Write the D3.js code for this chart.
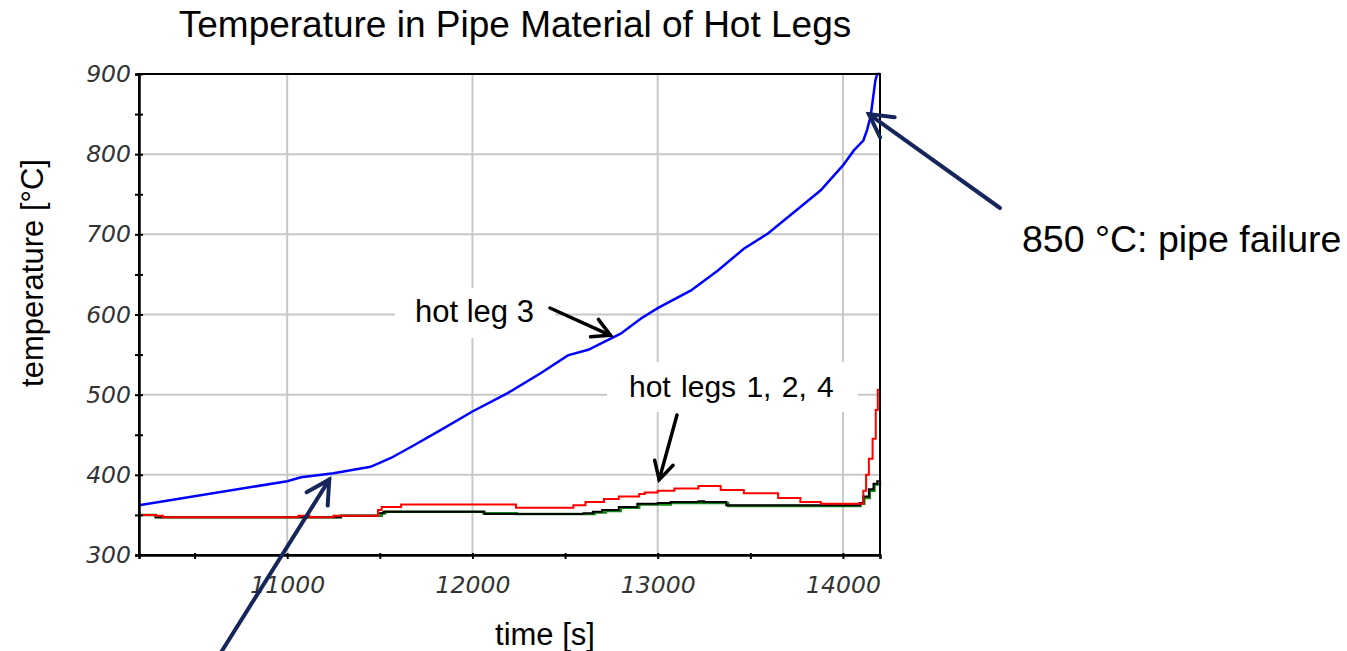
<!DOCTYPE html>
<html>
<head>
<meta charset="utf-8">
<script src="https://cdn.jsdelivr.net/npm/d3@7"></script>
<style>
  body { margin: 0; background: #fff; }
  svg { display: block; }
  .lbl { font-family: "Liberation Sans", Arial, sans-serif; fill: #000; }
</style>
</head>
<body>
<script>
// hot leg 3 (blue)
var blueTime = [10200, 11000, 11075, 11250, 11450, 11560, 11670, 11830, 12000, 12190, 12370, 12515, 12625, 12800, 12910, 13000, 13180, 13325, 13465, 13595, 13770, 13880, 14000, 14060, 14110, 14130, 14150, 14175, 14185, 14200];
var blueTemp = [362, 392, 397, 402, 410, 421, 435, 456, 479, 502, 527, 549, 556, 576, 595, 608, 630, 655, 682, 701, 734, 755, 786, 805, 817, 830, 848, 892, 900, 900];

// hot legs 1, 2, 4 (red, black, green)
var redTime = [10200, 10290, 10330, 11060, 11120, 11250, 11490, 11510, 11615, 12235, 12545, 12610, 12710, 12790, 12900, 12930, 13000, 13090, 13220, 13340, 13465, 13650, 13770, 13880, 14060, 14110, 14125, 14140, 14160, 14177, 14188, 14200];
var redTemp = [350, 349, 347, 349, 347, 349, 356, 360, 363, 359, 362, 366, 370, 373, 376, 378, 380, 383, 386, 381, 377, 371, 366, 364, 364, 380, 400, 420, 445, 481, 506, 508];

var blackTime = [10200, 10290, 11290, 11490, 11520, 12065, 12600, 12650, 12700, 12790, 12890, 13000, 13070, 13220, 13250, 13370, 14060, 14090, 14110, 14140, 14165, 14185, 14200];
var blackTemp = [350, 347, 349, 352, 354, 351, 352, 354, 356, 360, 364, 365, 366, 367, 366, 362, 362, 365, 373, 382, 389, 392, 393];

var greenTime = [10200, 10290, 11290, 11510, 11530, 12060, 12240, 12600, 12660, 12720, 12800, 12900, 13070, 13250, 13380, 14060, 14095, 14115, 14145, 14170, 14200];
var greenTemp = [350, 347, 349, 352, 354, 352, 351, 351, 353, 355, 359, 363, 365, 365, 361, 361, 364, 371, 380, 388, 392];

var yTicks = d3.range(300, 901, 50);
var xTicks = d3.range(10500, 14001, 500);
var yGrid = [400, 500, 600, 700, 800];
var xGrid = [11000, 12000, 13000, 14000];

var width = 1347, height = 651;
var pLeft = 139, pTop = 74, pRight = 880, pBottom = 555;

var svg = d3.select("body").append("svg")
    .attr("width", width)
    .attr("height", height);

var x = d3.scaleLinear().domain([10200, 14200]).range([pLeft, pRight]);
var y = d3.scaleLinear().domain([300, 900]).range([pBottom, pTop]);

// grid
svg.append("g").selectAll("line").data(yGrid).enter().append("line")
    .attr("x1", pLeft).attr("x2", pRight)
    .attr("y1", function(d){ return y(d); }).attr("y2", function(d){ return y(d); })
    .attr("stroke", "#c8c8c8").attr("stroke-width", 2);
svg.append("g").selectAll("line").data(xGrid).enter().append("line")
    .attr("y1", pTop).attr("y2", pBottom)
    .attr("x1", function(d){ return x(d); }).attr("x2", function(d){ return x(d); })
    .attr("stroke", "#c8c8c8").attr("stroke-width", 2);

// white boxes behind the labels inside the plot
svg.append("rect").attr("x", 395).attr("y", 288).attr("width", 160).attr("height", 50).attr("fill", "#fff");
svg.append("rect").attr("x", 607).attr("y", 362).attr("width", 251).attr("height", 50).attr("fill", "#fff");

// series
function zip(t, v){ return t.map(function(d, i){ return [d, v[i]]; }); }
var stepLine = d3.line().x(function(d){ return x(d[0]); }).y(function(d){ return y(d[1]); }).curve(d3.curveStepAfter);
var smoothLine = d3.line().x(function(d){ return x(d[0]); }).y(function(d){ return y(d[1]); });

svg.append("path").datum(zip(greenTime, greenTemp)).attr("d", stepLine)
    .attr("fill", "none").attr("stroke", "#118a11").attr("stroke-width", 2.5);
svg.append("path").datum(zip(blackTime, blackTemp)).attr("d", stepLine)
    .attr("fill", "none").attr("stroke", "#000").attr("stroke-width", 2);
svg.append("path").datum(zip(redTime, redTemp)).attr("d", stepLine)
    .attr("fill", "none").attr("stroke", "#ff0000").attr("stroke-width", 2);
svg.append("path").datum(zip(blueTime, blueTemp)).attr("d", smoothLine)
    .attr("fill", "none").attr("stroke", "#0000ff").attr("stroke-width", 2.5);

// frame
svg.append("rect").attr("x", pLeft).attr("y", pTop)
    .attr("width", pRight - pLeft).attr("height", pBottom - pTop)
    .attr("fill", "none").attr("stroke", "#000").attr("stroke-width", 2);

// axes
var yAxis = svg.append("g").attr("transform", "translate(" + pLeft + ",0)")
    .call(d3.axisLeft(y).tickValues(yTicks).tickSize(4).tickPadding(4)
        .tickFormat(function(d){ return d % 100 === 0 ? d : ""; }));
yAxis.select(".domain").attr("stroke-width", 2.5);
yAxis.selectAll(".tick line").attr("x1", 4).attr("stroke-width", 2);

var xAxis = svg.append("g").attr("transform", "translate(0," + pBottom + ")")
    .call(d3.axisBottom(x).tickValues(xTicks).tickSize(4).tickPadding(17)
        .tickFormat(function(d){ return d % 1000 === 0 ? d : ""; }));
xAxis.select(".domain").attr("stroke-width", 2.5);
xAxis.selectAll(".tick line").attr("y1", -2).attr("stroke-width", 2);

svg.selectAll(".domain").attr("stroke", "#000");
svg.selectAll(".tick line").attr("stroke", "#000");
svg.selectAll(".tick text")
    .style("font-family", "'DejaVu Sans', sans-serif")
    .style("font-style", "oblique")
    .style("font-size", "23.5px")
    .style("fill", "#333");

// titles
svg.append("text").attr("class", "lbl").attr("x", 515).attr("y", 37)
    .attr("text-anchor", "middle").attr("font-size", 37)
    .text("Temperature in Pipe Material of Hot Legs");
svg.append("text").attr("class", "lbl").attr("x", 545).attr("y", 645)
    .attr("text-anchor", "middle").attr("font-size", 31)
    .text("time [s]");
svg.append("text").attr("class", "lbl")
    .attr("transform", "translate(43," + 273 + ") rotate(-90)")
    .attr("text-anchor", "middle").attr("font-size", 31)
    .text("temperature [°C]");

// annotations
svg.append("text").attr("class", "lbl").attr("x", 415).attr("y", 322)
    .attr("font-size", 31).text("hot leg 3");
svg.append("text").attr("class", "lbl").attr("x", 629).attr("y", 397)
    .attr("font-size", 30).attr("word-spacing", 2).text("hot legs 1, 2, 4");
svg.append("text").attr("class", "lbl").attr("x", 1022).attr("y", 252)
    .attr("font-size", 37.5).text("850 °C: pipe failure");

function arrow(x1, y1, x2, y2, color, w, head){
    var a = Math.atan2(y2 - y1, x2 - x1), s = 0.5;
    var g = svg.append("g").attr("stroke", color).attr("stroke-width", w)
        .attr("stroke-linecap", "round").attr("fill", "none");
    g.append("line").attr("x1", x1).attr("y1", y1).attr("x2", x2).attr("y2", y2);
    g.append("path").attr("stroke-linejoin", "miter").attr("d",
        "M" + (x2 - head * Math.cos(a - s)) + "," + (y2 - head * Math.sin(a - s)) +
        "L" + x2 + "," + y2 +
        "L" + (x2 - head * Math.cos(a + s)) + "," + (y2 - head * Math.sin(a + s)));
}

// arrow tips sit on data points of the curves
arrow(550, 308, x(12745), y(574), "#000", 3.5, 20);
arrow(677, 415, x(13008), y(394), "#000", 3.5, 20);
arrow(1000, 208, x(14140), y(850), "#16265a", 4, 26);
arrow(215, 662, x(11227), y(394), "#16265a", 4, 26);
</script>
</body>
</html>
